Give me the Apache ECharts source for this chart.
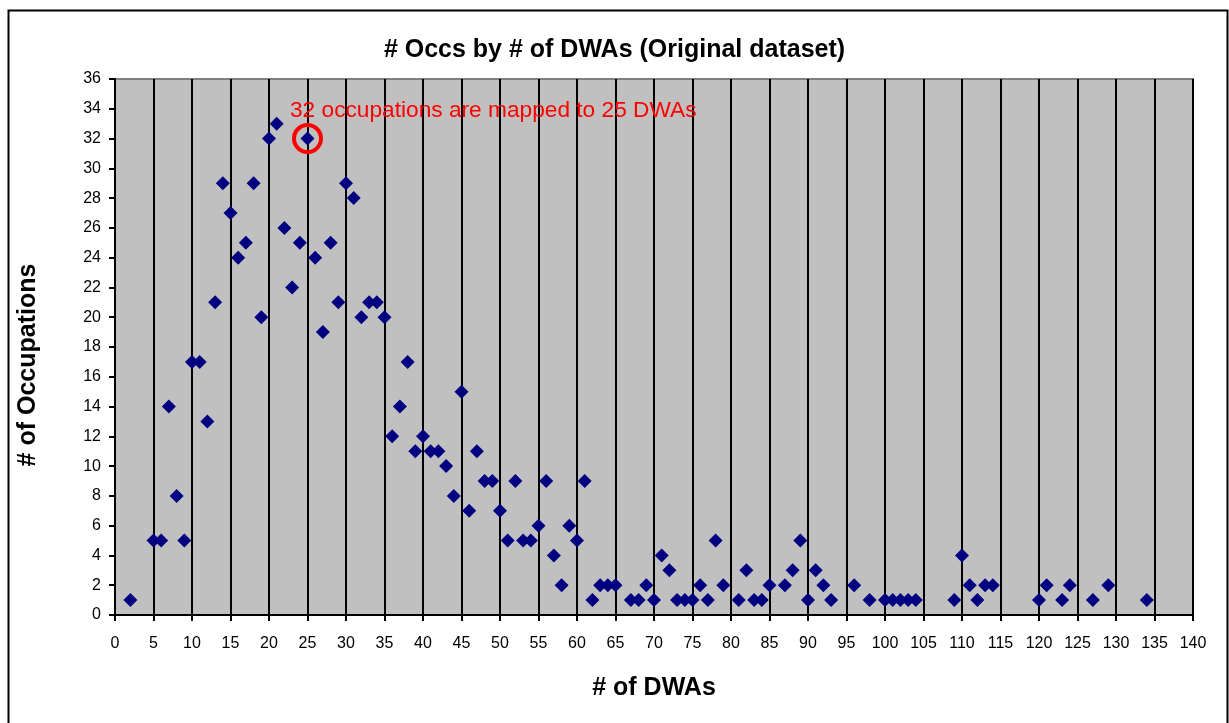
<!DOCTYPE html>
<html>
<head>
    <title># Occs by # of DWAs</title>
    <script src="https://cdn.jsdelivr.net/npm/echarts@6/dist/echarts.min.js"></script>
    <style>
        html, body { margin: 0; padding: 0; background: #fff; }
    </style>
</head>

<body>
<div id="main" style="width:1229px;height:723px"></div>
<script type="text/javascript">
    // number of DWAs per point
    var dwaCounts = [2, 5, 6, 7, 8, 9, 10, 11, 12, 13, 14, 15, 16, 17, 18, 19, 20, 21, 22, 23, 24, 25, 26, 27, 28, 29,
        30, 31, 32, 33, 34, 35, 36, 37, 38, 39, 40, 41, 42, 43, 44, 45, 46, 47, 48, 49, 50, 51, 52, 53, 54, 55, 56, 57,
        58, 59, 60, 61, 62, 63, 64, 65, 67, 68, 69, 70, 71, 72, 73, 74, 75, 76, 77, 78, 79, 81, 82, 83, 84, 85, 87, 88,
        89, 90, 91, 92, 93, 96, 98, 100, 101, 102, 103, 104, 109, 110, 111, 112, 113, 114, 120, 121, 123, 124, 127, 129, 134];
    // number of occupations mapped to that many DWAs
    var occCounts = [1, 5, 5, 14, 8, 5, 17, 17, 13, 21, 29, 27, 24, 25, 29, 20, 32, 33, 26, 22, 25, 32, 24, 19, 25, 21,
        29, 28, 20, 21, 21, 20, 12, 14, 17, 11, 12, 11, 11, 10, 8, 15, 7, 11, 9, 9, 7, 5, 9, 5, 5, 6, 9, 4,
        2, 6, 5, 9, 1, 2, 2, 2, 1, 1, 2, 1, 4, 3, 1, 1, 1, 2, 1, 5, 2, 1, 3, 1, 1, 2, 2, 3,
        5, 1, 3, 2, 1, 2, 1, 1, 1, 1, 1, 1, 1, 4, 2, 1, 2, 2, 1, 2, 1, 2, 1, 2, 1];

    // highlighted point and its note
    var highlight = [25, 32];
    var highlightText = '32 occupations are mapped to 25 DWAs';

    var points = dwaCounts.map(function (d, i) {
        return [d, occCounts[i]];
    });

    var myChart = echarts.init(document.getElementById('main'));
    var font = 'Arial, "Liberation Sans", sans-serif';

    option = {
        animation: false,
        backgroundColor: '#fff',
        textStyle: { fontFamily: font },
        title: {
            text: '# Occs by # of DWAs (Original dataset)',
            left: 'center',
            top: 24,
            textStyle: { fontSize: 25, fontWeight: 'bold', color: '#000', fontFamily: font }
        },
        // frame round the whole chart
        graphic: [{
            type: 'rect',
            left: 6,
            top: 8,
            shape: { width: 1219, height: 760 },
            style: { fill: 'none', stroke: '#000', lineWidth: 2 }
        }],
        grid: {
            left: 115,
            right: 36,
            top: 79,
            bottom: 108,
            outerBoundsMode: 'none',
            containLabel: false,
            show: true,
            backgroundColor: '#c0c0c0',
            borderColor: '#808080',
            borderWidth: 2
        },
        xAxis: {
            type: 'value',
            min: 0,
            max: 140,
            interval: 5,
            name: '# of DWAs',
            nameLocation: 'middle',
            nameGap: 52,
            nameTextStyle: { fontSize: 25, fontWeight: 'bold', color: '#000', fontFamily: font },
            axisLine: { show: true, onZero: false, lineStyle: { color: '#000', width: 2 } },
            axisTick: { show: true, length: 6, lineStyle: { color: '#000', width: 2 } },
            axisLabel: { color: '#000', fontSize: 16, margin: 15, fontFamily: font },
            splitLine: { show: true, lineStyle: { color: '#000', width: 2 } }
        },
        yAxis: {
            type: 'value',
            min: 0,
            max: 36,
            interval: 2,
            name: '# of Occupations',
            nameLocation: 'middle',
            nameGap: 65,
            nameTextStyle: { fontSize: 25, fontWeight: 'bold', color: '#000', fontFamily: font, padding: [0, 36, 0, 0] },
            axisLine: { show: true, lineStyle: { color: '#000', width: 2 } },
            axisTick: { show: true, length: 6, lineStyle: { color: '#000', width: 2 } },
            axisLabel: { color: '#000', fontSize: 16, margin: 14, fontFamily: font },
            splitLine: { show: false }
        },
        series: [{
            type: 'scatter',
            data: points,
            symbol: 'diamond',
            symbolSize: 14,
            itemStyle: { color: '#000080', opacity: 1 },
            markPoint: {
                symbol: 'circle',
                symbolSize: 27,
                itemStyle: { color: 'rgba(0,0,0,0)', borderColor: '#ff0000', borderWidth: 4, opacity: 1 },
                label: {
                    show: true,
                    formatter: highlightText,
                    position: [-2, -12],
                    align: 'left',
                    verticalAlign: 'middle',
                    color: '#ff0000',
                    fontSize: 22.7,
                    fontFamily: font
                },
                data: [{ coord: highlight }]
            }
        }]
    };
    myChart.setOption(option);
</script>
</body>
</html>
